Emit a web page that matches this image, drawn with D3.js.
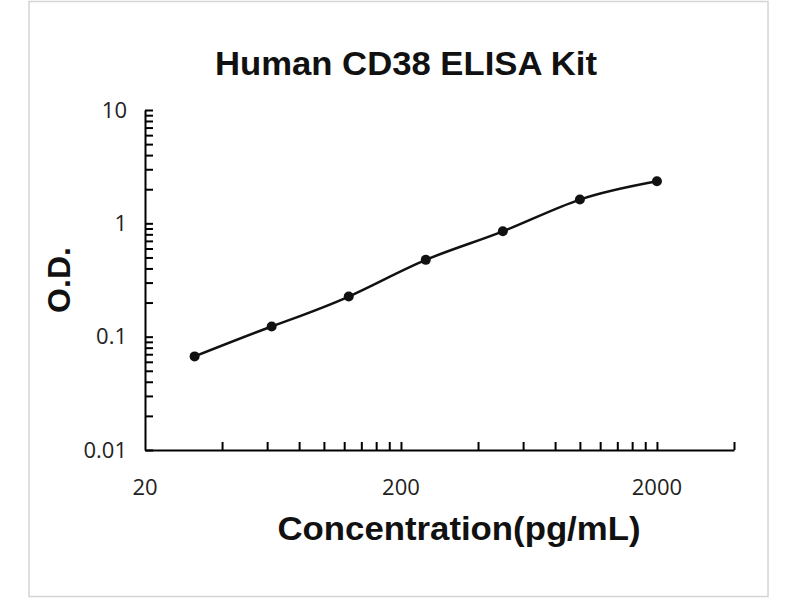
<!DOCTYPE html>
<html>
<head>
<meta charset="utf-8">
<script src="https://cdn.jsdelivr.net/npm/d3@7"></script>
<style>
  body { margin: 0; background: #fff; }
  .axis path, .axis line { stroke: #000; stroke-width: 2; }
  .axis text { font-family: "Open Sans", "Noto Sans", sans-serif; font-size: 22px; fill: #222; }
  .lbl { font-family: "Liberation Sans", Arial, sans-serif; font-weight: bold; fill: #111; }
</style>
</head>
<body>
<svg id="chart" width="800" height="600"></svg>
<script>
// 标准曲线数据
const conc = [31.25, 62.5, 125, 250, 500, 1000, 2000];
const od = [0.067, 0.123, 0.226, 0.476, 0.85, 1.62, 2.35];

// 刻度
const xTicks = [40, 60, 80, 100, 120, 140, 160, 180, 200, 400, 600, 800, 1000, 1200, 1400, 1600, 1800, 2000, 4000];
const xLabels = [20, 200, 2000];
const yTicks = [0.01, 0.02, 0.03, 0.04, 0.05, 0.06, 0.07, 0.08, 0.09,
                0.1, 0.2, 0.3, 0.4, 0.5, 0.6, 0.7, 0.8, 0.9,
                1, 2, 3, 4, 5, 6, 7, 8, 9, 10];
const yLabels = [0.01, 0.1, 1, 10];

const svg = d3.select("#chart");

// 外框
svg.append("rect")
  .attr("x", 29).attr("y", 1.5)
  .attr("width", 739).attr("height", 595)
  .attr("fill", "none")
  .attr("stroke", "#d4d4d4")
  .attr("stroke-width", 1.5);

const x = d3.scaleLog().domain([20, 4000]).range([145, 734]);
const y = d3.scaleLog().domain([0.01, 10]).range([450, 110]);

// x 轴
svg.append("g")
  .attr("class", "axis")
  .attr("transform", "translate(0,450)")
  .call(d3.axisBottom(x)
    .tickValues(xTicks)
    .tickSize(-8)
    .tickSizeOuter(0)
    .tickFormat(() => ""));

svg.append("g")
  .attr("class", "axis")
  .selectAll("text")
  .data(xLabels)
  .join("text")
  .attr("x", d => x(d))
  .attr("y", 495)
  .attr("text-anchor", "middle")
  .text(d => d);

// y 轴
svg.append("g")
  .attr("class", "axis")
  .attr("transform", "translate(145,0)")
  .call(d3.axisLeft(y)
    .tickValues(yTicks)
    .tickSize(-8)
    .tickSizeOuter(0)
    .tickPadding(18)
    .tickFormat(d => yLabels.includes(d) ? d3.format("~g")(d) : ""));

// 标题和轴标题
svg.append("text")
  .attr("class", "lbl")
  .attr("x", 406).attr("y", 75)
  .attr("text-anchor", "middle")
  .attr("font-size", 33)
  .attr("textLength", 382)
  .attr("lengthAdjust", "spacingAndGlyphs")
  .text("Human CD38 ELISA Kit");

svg.append("text")
  .attr("class", "lbl")
  .attr("x", 459).attr("y", 540)
  .attr("text-anchor", "middle")
  .attr("font-size", 33)
  .attr("textLength", 363)
  .attr("lengthAdjust", "spacingAndGlyphs")
  .text("Concentration(pg/mL)");

svg.append("text")
  .attr("class", "lbl")
  .attr("transform", "translate(70,280) rotate(-90)")
  .attr("text-anchor", "middle")
  .attr("font-size", 32)
  .text("O.D.");

// 曲线
const pts = conc.map((c, i) => [c, od[i]]);
svg.append("path")
  .datum(pts)
  .attr("fill", "none")
  .attr("stroke", "#111")
  .attr("stroke-width", 2.5)
  .attr("d", d3.line()
    .x(d => x(d[0]))
    .y(d => y(d[1]))
    .curve(d3.curveNatural));

// 数据点
svg.append("g")
  .selectAll("circle")
  .data(pts)
  .join("circle")
  .attr("cx", d => x(d[0]))
  .attr("cy", d => y(d[1]))
  .attr("r", 5)
  .attr("fill", "#111");
</script>
</body>
</html>
